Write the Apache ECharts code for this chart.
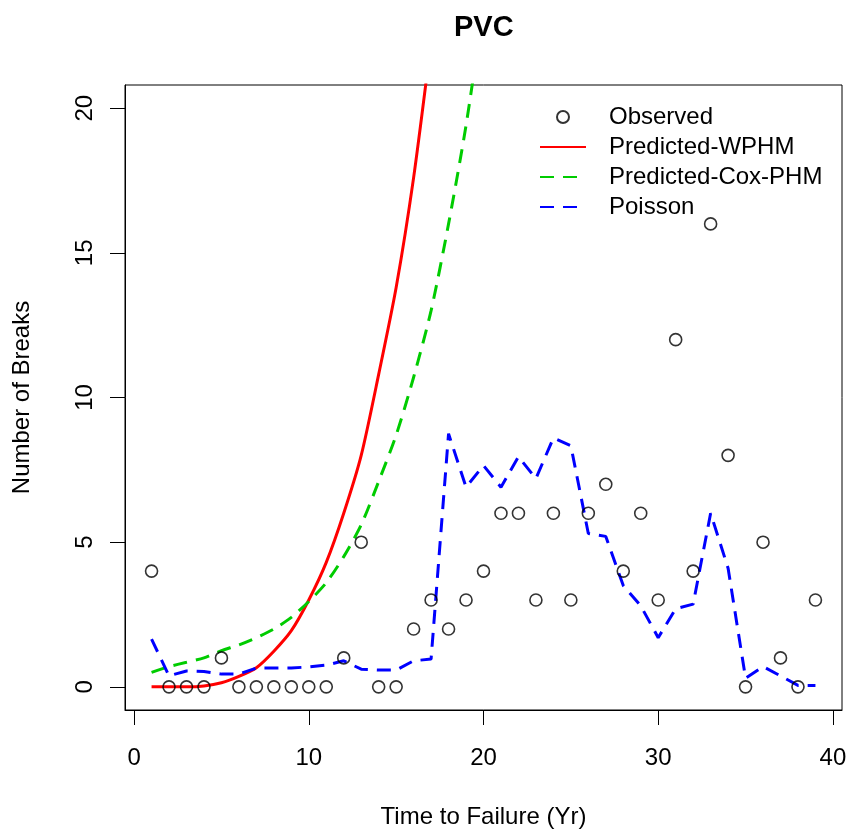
<!DOCTYPE html>
<html>
<head>
<meta charset="utf-8">
<script src="https://cdn.jsdelivr.net/npm/echarts@6/dist/echarts.min.js"></script>
<style>html,body{margin:0;padding:0;background:#fff}#c{width:848px;height:830px}</style>
</head>
<body>
<div id="c"></div>
<script>
var years = [1,2,3,4,5,6,7,8,9,10,11,12,13,14,15,16,17,18,19,20,21,22,23,24,25,26,27,28,29,30,31,32,33,34,35,36,37,38,39];
var observed = [4,0,0,0,1,0,0,0,0,0,0,1,5,0,0,2,3,2,3,4,6,6,3,6,3,6,7,4,6,3,12,4,16,8,0,5,1,0,3];
var wphmYears = [1,2,3,4,5,6,7,8,9,10,11,12,13,14,15,16,17];
var wphm = [0,0,0,0.03,0.14,0.36,0.66,1.23,1.94,3.0,4.3,6.0,8.0,10.8,13.8,17.6,22.3];
var coxYears = [1,2,3,4,5,6,7,8,9,10,11,12,13,14,15,16,17,18,19,20];
var cox = [0.5,0.7,0.85,1.0,1.25,1.45,1.7,2.0,2.4,2.95,3.6,4.5,5.6,7.1,8.7,10.7,13.0,16.0,19.4,23.5];
var poisson = [1.65,0.38,0.55,0.53,0.44,0.44,0.65,0.65,0.65,0.69,0.75,0.9,0.61,0.58,0.58,0.9,0.96,8.75,6.9,7.65,6.9,7.95,7.2,8.6,8.33,5.3,5.2,3.5,2.8,1.7,2.7,2.86,6.0,4.1,0.3,0.7,0.38,0.05,0.05];
var xTicks = [0,10,20,30,40];
var yTicks = [0,5,10,15,20];

function pairs(xs, ys){ return xs.map(function(x,i){ return [x, ys[i]]; }); }

var FONT = 'Liberation Sans, Arial, sans-serif';
var chart = echarts.init(document.getElementById('c'), null, {renderer:'canvas'});
chart.setOption({
  animation: false,
  backgroundColor: '#fff',
  title: {
    text: 'PVC', left: 449, top: 8,
    textStyle: {fontFamily: FONT, fontSize: 29, fontWeight: 'bold', color: '#000'}
  },
  legend: {
    orient: 'vertical', left: 534, top: 100, itemGap: 6,
    itemWidth: 46, itemHeight: 12,
    textStyle: {fontFamily: FONT, fontSize: 24, color: '#000', padding: [0,0,0,18]},
    data: [
      {name: 'Observed'},
      {name: 'Predicted-WPHM', itemStyle: {opacity: 0}},
      {name: 'Predicted-Cox-PHM', itemStyle: {opacity: 0}},
      {name: 'Poisson', itemStyle: {opacity: 0}}
    ]
  },
  grid: {left: 125, right: 6, top: 85, bottom: 120, show: true, borderColor: '#000', borderWidth: 1, containLabel: false, outerBoundsMode: 'none'},
  xAxis: {
    type: 'value', min: -0.52, max: 40.52,
    name: 'Time to Failure (Yr)', nameLocation: 'middle', nameGap: 95,
    nameTextStyle: {fontFamily: FONT, fontSize: 24, color: '#000'},
    axisLine: {show: true, onZero: false, lineStyle: {color: '#000', width: 1}},
    axisTick: {show: true, length: 15, customValues: xTicks, lineStyle: {color: '#000', width: 1}},
    axisLabel: {show: true, customValues: xTicks, margin: 36, fontFamily: FONT, fontSize: 24, color: '#000'},
    splitLine: {show: false}
  },
  yAxis: {
    type: 'value', min: -0.8, max: 20.8,
    name: 'Number of Breaks', nameLocation: 'middle', nameGap: 91, nameRotate: 90,
    nameTextStyle: {fontFamily: FONT, fontSize: 24, color: '#000'},
    axisLine: {show: true, onZero: false, lineStyle: {color: '#000', width: 1}},
    axisTick: {show: true, length: 15, customValues: yTicks, lineStyle: {color: '#000', width: 1}},
    axisLabel: {show: true, customValues: yTicks, rotate: 90, margin: 28, fontFamily: FONT, fontSize: 24, color: '#000'},
    splitLine: {show: false}
  },
  series: [
    {
      name: 'Observed', type: 'scatter', data: pairs(years, observed),
      symbol: 'circle', symbolSize: 12,
      itemStyle: {color: 'rgba(0,0,0,0)', borderColor: '#000', borderWidth: 1.6},
      z: 5
    },
    {
      name: 'Predicted-WPHM', type: 'line', data: pairs(wphmYears, wphm),
      symbol: 'none', showSymbol: false, smooth: 0.25, clip: true,
      lineStyle: {color: '#ff0000', width: 3, type: 'solid'},
      itemStyle: {color: '#ff0000'}
    },
    {
      name: 'Predicted-Cox-PHM', type: 'line', data: pairs(coxYears, cox),
      symbol: 'none', showSymbol: false, smooth: 0.25, clip: true,
      lineStyle: {color: '#00cc00', width: 3, type: [14, 9]},
      itemStyle: {color: '#00cc00'}
    },
    {
      name: 'Poisson', type: 'line', data: pairs(years, poisson),
      symbol: 'none', showSymbol: false, clip: true,
      lineStyle: {color: '#0000ff', width: 3, type: [14, 9]},
      itemStyle: {color: '#0000ff'}
    }
  ]
});
</script>
</body>
</html>
